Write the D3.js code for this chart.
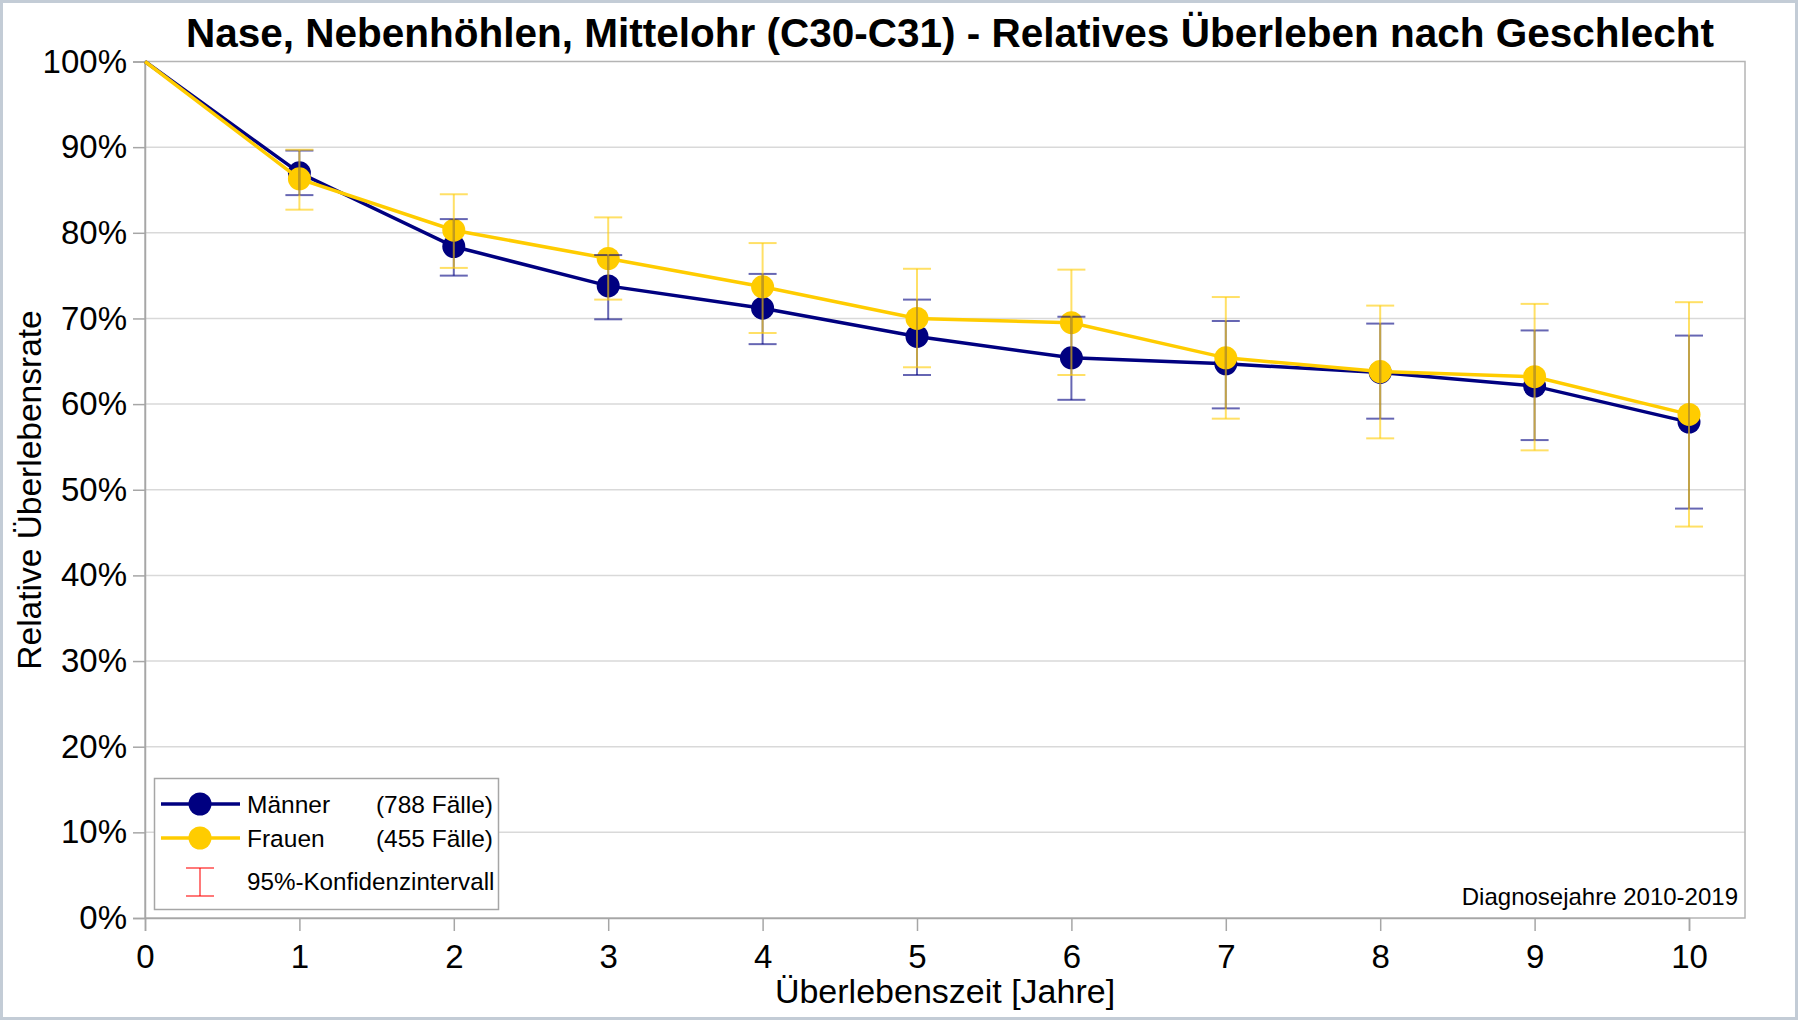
<!DOCTYPE html>
<html>
<head>
<meta charset="utf-8">
<script src="https://cdn.jsdelivr.net/npm/d3@7"></script>
<style>
  html, body { margin: 0; padding: 0; background: #fff; }
  svg { display: block; font-family: "Liberation Sans", Arial, sans-serif; }
</style>
</head>
<body>
<svg id="chart" width="1798" height="1020"></svg>
<script>
// Data (percent)
const years = [0, 1, 2, 3, 4, 5, 6, 7, 8, 9, 10];
const menSurv   = [100, 87.0, 78.4, 73.8, 71.2, 67.9, 65.4, 64.7, 63.7, 62.1, 57.9];
const womenSurv = [100, 86.3, 80.3, 77.0, 73.7, 70.0, 69.5, 65.4, 63.8, 63.2, 58.8];
const menLower   = [null, 84.4, 75.0, 69.9, 67.0, 63.4, 60.5, 59.5, 58.3, 55.8, 47.8];
const menUpper   = [null, 89.6, 81.6, 77.4, 75.2, 72.2, 70.2, 69.7, 69.4, 68.6, 68.0];
const womenLower = [null, 82.7, 75.9, 72.2, 68.3, 64.3, 63.4, 58.3, 56.0, 54.6, 45.7];
const womenUpper = [null, 89.7, 84.5, 81.8, 78.8, 75.8, 75.7, 72.5, 71.5, 71.7, 71.9];
const yTicks = [0, 10, 20, 30, 40, 50, 60, 70, 80, 90, 100];
const seriesNames = ["Männer", "Frauen"];
const seriesCases = ["(788 Fälle)", "(455 Fälle)"];

const W = 1798, H = 1020;
const plot = { left: 145, right: 1745, top: 61.5, bottom: 918 };
const NAVY = "#000080", GOLD = "#ffcc00";

const svg = d3.select("#chart");

// outer frame
svg.append("rect")
    .attr("x", 1.5).attr("y", 1.5)
    .attr("width", W - 3).attr("height", H - 3)
    .attr("fill", "#fff")
    .attr("stroke", "#c3ccd6")
    .attr("stroke-width", 3);

// scales
const x = d3.scaleLinear().domain([0, 10]).range([plot.left, 1689]);
const y = d3.scaleLinear().domain([0, 100]).range([plot.bottom, plot.top]);

// grid
svg.append("g")
  .selectAll("line")
  .data(yTicks.filter(d => d > 0 && d < 100))
  .join("line")
    .attr("x1", plot.left).attr("x2", plot.right)
    .attr("y1", d => y(d)).attr("y2", d => y(d))
    .attr("stroke", "#d9d9d9")
    .attr("stroke-width", 1.5);

// plot frame
svg.append("rect")
    .attr("x", plot.left).attr("y", plot.top)
    .attr("width", plot.right - plot.left)
    .attr("height", plot.bottom - plot.top)
    .attr("fill", "none")
    .attr("stroke", "#b4b4b4")
    .attr("stroke-width", 1.5);

// axes
const yAxis = d3.axisLeft(y)
    .tickValues(yTicks)
    .tickFormat(d => d + "%")
    .tickSize(12)
    .tickPadding(6);
const xAxis = d3.axisBottom(x)
    .tickValues(years)
    .tickFormat(d3.format("d"))
    .tickSize(13)
    .tickPadding(14);

const gy = svg.append("g")
    .attr("transform", `translate(${plot.left},0)`)
    .call(yAxis);
const gx = svg.append("g")
    .attr("transform", `translate(0,${plot.bottom})`)
    .call(xAxis);

[gx, gy].forEach(g => {
  g.select(".domain").attr("stroke", "#a6a6a6").attr("stroke-width", 1.5);
  g.selectAll(".tick line").attr("stroke", "#a6a6a6").attr("stroke-width", 1.5);
  g.selectAll(".tick text")
    .attr("fill", "#000")
    .attr("font-size", 33)
    .attr("font-family", "Liberation Sans, Arial, sans-serif");
});
gx.selectAll(".tick text").attr("dy", "0.71em");

// titles
svg.append("text")
    .attr("x", 950).attr("y", 47)
    .attr("text-anchor", "middle")
    .attr("font-size", 40.5)
    .attr("font-weight", "bold")
    .text("Nase, Nebenhöhlen, Mittelohr (C30-C31) - Relatives Überleben nach Geschlecht");

svg.append("text")
    .attr("x", 945).attr("y", 1003)
    .attr("text-anchor", "middle")
    .attr("font-size", 34)
    .text("Überlebenszeit [Jahre]");

svg.append("text")
    .attr("transform", "translate(41,490) rotate(-90)")
    .attr("text-anchor", "middle")
    .attr("font-size", 33.5)
    .text("Relative Überlebensrate");

svg.append("text")
    .attr("x", 1738).attr("y", 905)
    .attr("text-anchor", "end")
    .attr("font-size", 24)
    .text("Diagnosejahre 2010-2019");

// lines + markers
const line = d3.line().x((d, i) => x(years[i])).y(d => y(d));

function drawSeries(values, color) {
  svg.append("path")
      .attr("d", line(values))
      .attr("fill", "none")
      .attr("stroke", color)
      .attr("stroke-width", 3.5);
  svg.append("g")
    .selectAll("circle")
    .data(values.slice(1))
    .join("circle")
      .attr("cx", (d, i) => x(years[i + 1]))
      .attr("cy", d => y(d))
      .attr("r", 11.5)
      .attr("fill", color);
}
drawSeries(menSurv, NAVY);
drawSeries(womenSurv, GOLD);

// confidence intervals
function drawCI(lower, upper, color) {
  const g = svg.append("g")
      .attr("stroke", color)
      .attr("stroke-width", 2)
      .attr("stroke-opacity", 0.6);
  years.forEach((yr, i) => {
    if (lower[i] == null) return;
    const cx = x(yr);
    g.append("line").attr("x1", cx).attr("x2", cx)
        .attr("y1", y(lower[i])).attr("y2", y(upper[i]));
    [lower[i], upper[i]].forEach(v => {
      g.append("line").attr("x1", cx - 14).attr("x2", cx + 14)
          .attr("y1", y(v)).attr("y2", y(v));
    });
  });
}
drawCI(menLower, menUpper, NAVY);
drawCI(womenLower, womenUpper, GOLD);

// legend
const lg = svg.append("g");
lg.append("rect")
    .attr("x", 154.5).attr("y", 778.5)
    .attr("width", 344).attr("height", 131)
    .attr("fill", "#fff")
    .attr("stroke", "#a6a6a6")
    .attr("stroke-width", 1.5);

[NAVY, GOLD].forEach((c, i) => {
  const cy = 804 + i * 34;
  lg.append("line")
      .attr("x1", 161).attr("x2", 240)
      .attr("y1", cy).attr("y2", cy)
      .attr("stroke", c).attr("stroke-width", 3.5);
  lg.append("circle")
      .attr("cx", 200).attr("cy", cy).attr("r", 11.5)
      .attr("fill", c);
  lg.append("text")
      .attr("x", 247).attr("y", cy + 9)
      .attr("font-size", 24.5)
      .text(seriesNames[i]);
  lg.append("text")
      .attr("x", 493).attr("y", cy + 9)
      .attr("text-anchor", "end")
      .attr("font-size", 24.5)
      .text(seriesCases[i]);
});

const ci = lg.append("g")
    .attr("stroke", "#ff0000")
    .attr("stroke-opacity", 0.7)
    .attr("stroke-width", 1.5);
ci.append("line").attr("x1", 200).attr("x2", 200).attr("y1", 868).attr("y2", 896);
ci.append("line").attr("x1", 186).attr("x2", 214).attr("y1", 868).attr("y2", 868);
ci.append("line").attr("x1", 186).attr("x2", 214).attr("y1", 896).attr("y2", 896);
lg.append("text")
    .attr("x", 247).attr("y", 890)
    .attr("font-size", 24.2)
    .text("95%-Konfidenzintervall");
</script>
</body>
</html>
